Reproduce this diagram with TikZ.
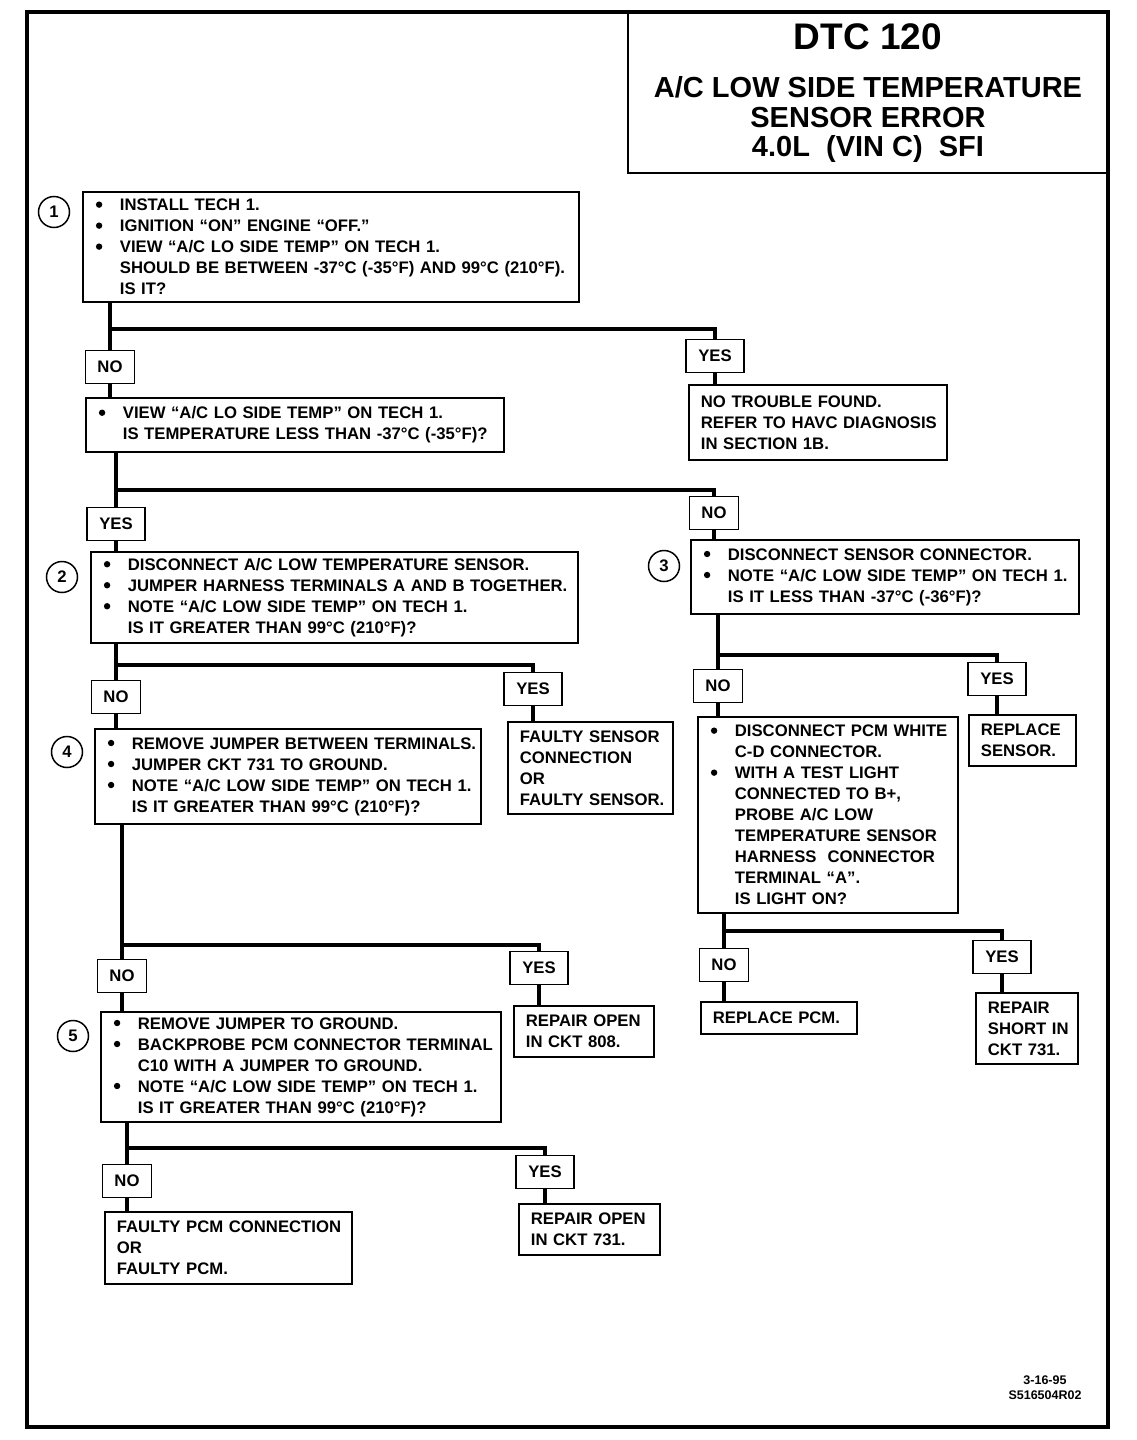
\documentclass[tikz,border=0pt]{standalone}
\usepackage{fontspec}
\setmainfont{Liberation Sans}
\usepackage{tikz}

\newcommand{\bodyfont}{\fontsize{16.7}{21}\selectfont\bfseries}
\newcommand{\titlefont}{\fontsize{29}{29.5}\selectfont\bfseries}
\newcommand{\bdot}{\tikz[baseline=-6pt]\fill (0,0) circle (3.2pt);}
\newcommand{\bitem}[1]{\hspace*{13pt}\makebox[24pt][l]{\bdot}\mbox{#1}}
\newcommand{\bcont}[1]{\hspace*{37pt}\mbox{#1}}
\newcommand{\bline}[1]{\hspace*{12pt}\mbox{#1}}

\begin{document}
\begin{tikzpicture}[x=1pt, y=-1pt,
	box/.style={draw, line width=1.8pt, anchor=north west, inner xsep=0pt, inner ysep=0pt, align=left, font=\bodyfont},
	ans/.style={draw, line width=1.8pt, inner xsep=12pt, minimum height=33pt, font=\bodyfont},
	num/.style={circle, draw, line width=1.5pt, minimum size=31pt, inner sep=0pt, font=\bodyfont},
	link/.style={line width=4.8pt},
	title/.style={draw, line width=2pt, minimum width=480pt, minimum height=160pt, align=center, font=\titlefont}]
	\useasboundingbox (0,0) rectangle (1136,1440);
	\draw[line width=3.6pt] (27,12) rectangle (1108,1427);
	\node[title] (title) at (868,93) {{\fontsize{37}{37}\selectfont DTC 120}\\[19pt]
		A/C LOW SIDE TEMPERATURE\\ SENSOR ERROR\\ 4.0L\ \ (VIN C)\ \ SFI};
	% step boxes
	\node[box, text width=496pt, minimum height=110pt] (b1) at (82,191) {\bitem{INSTALL TECH 1.}\\
		\bitem{IGNITION “ON” ENGINE “OFF.”}\\
		\bitem{VIEW “A/C LO SIDE TEMP” ON TECH 1.}\\
		\bcont{SHOULD BE BETWEEN -37°C (-35°F) AND 99°C (210°F).}\\
		\bcont{IS IT?}};
	\node[box, text width=418pt, minimum height=54pt] (b2) at (85,397) {\bitem{VIEW “A/C LO SIDE TEMP” ON TECH 1.}\\
		\bcont{IS TEMPERATURE LESS THAN -37°C (-35°F)?}};
	\node[box, text width=487pt, minimum height=91pt] (b3) at (90,551) {\bitem{DISCONNECT A/C LOW TEMPERATURE SENSOR.}\\
		\bitem{JUMPER HARNESS TERMINALS A AND B TOGETHER.}\\
		\bitem{NOTE “A/C LOW SIDE TEMP” ON TECH 1.}\\
		\bcont{IS IT GREATER THAN 99°C (210°F)?}};
	\node[box, text width=388pt, minimum height=74pt] (b4) at (690,539) {\bitem{DISCONNECT SENSOR CONNECTOR.}\\
		\bitem{NOTE “A/C LOW SIDE TEMP” ON TECH 1.}\\
		\bcont{IS IT LESS THAN -37°C (-36°F)?}};
	\node[box, text width=386pt, minimum height=95pt] (b5) at (94,728) {\bitem{REMOVE JUMPER BETWEEN TERMINALS.}\\
		\bitem{JUMPER CKT 731 TO GROUND.}\\
		\bitem{NOTE “A/C LOW SIDE TEMP” ON TECH 1.}\\
		\bcont{IS IT GREATER THAN 99°C (210°F)?}};
	\node[box, text width=260pt, minimum height=196pt] (b6) at (697,716) {\bitem{DISCONNECT PCM WHITE}\\
		\bcont{C-D CONNECTOR.}\\
		\bitem{WITH A TEST LIGHT}\\
		\bcont{CONNECTED TO B+,}\\
		\bcont{PROBE A/C LOW}\\
		\bcont{TEMPERATURE SENSOR}\\
		\bcont{HARNESS\ \ CONNECTOR}\\
		\bcont{TERMINAL “A”.}\\
		\bcont{IS LIGHT ON?}};
	\node[box, text width=400pt, minimum height=110pt] (b7) at (100,1011) {\bitem{REMOVE JUMPER TO GROUND.}\\
		\bitem{BACKPROBE PCM CONNECTOR TERMINAL}\\
		\bcont{C10 WITH A JUMPER TO GROUND.}\\
		\bitem{NOTE “A/C LOW SIDE TEMP” ON TECH 1.}\\
		\bcont{IS IT GREATER THAN 99°C (210°F)?}};
	% result boxes
	\node[box, text width=258pt, minimum height=75pt] (r1) at (688,384) {\bline{NO TROUBLE FOUND.}\\
		\bline{REFER TO HAVC DIAGNOSIS}\\ \bline{IN SECTION 1B.}};
	\node[box, text width=165pt, minimum height=92pt] (r2) at (507,721) {\bline{FAULTY SENSOR}\\
		\bline{CONNECTION}\\ \bline{OR}\\ \bline{FAULTY SENSOR.}};
	\node[box, text width=107pt, minimum height=51pt] (r3) at (968,714) {\bline{REPLACE}\\ \bline{SENSOR.}};
	\node[box, text width=156pt, minimum height=32pt] (r4) at (700,1001) {\bline{REPLACE PCM.}};
	\node[box, text width=102pt, minimum height=71pt] (r5) at (975,992) {\bline{REPAIR}\\
		\bline{SHORT IN}\\ \bline{CKT 731.}};
	\node[box, text width=140pt, minimum height=51pt] (r6) at (513,1005) {\bline{REPAIR OPEN}\\ \bline{IN CKT 808.}};
	\node[box, text width=247pt, minimum height=72pt] (r7) at (104,1211) {\bline{FAULTY PCM CONNECTION}\\
		\bline{OR}\\ \bline{FAULTY PCM.}};
	\node[box, text width=141pt, minimum height=51pt] (r8) at (518,1203) {\bline{REPAIR OPEN}\\ \bline{IN CKT 731.}};
	% step numbers
	\foreach \i/\cx/\cy in {1/54/212, 2/62/577, 3/664/566, 4/67/752, 5/73/1036}
		\node[num] (c\i) at (\cx,\cy) {\i};
	% answers
	\node[ans] (n1) at (110,367) {NO};
	\node[ans] (y1) at (715,356) {YES};
	\node[ans] (y2) at (116,524) {YES};
	\node[ans] (n2) at (714,513) {NO};
	\node[ans] (n3) at (116,697) {NO};
	\node[ans] (y3) at (533,689) {YES};
	\node[ans] (n4) at (718,686) {NO};
	\node[ans] (y4) at (997,679) {YES};
	\node[ans] (n5) at (724,965) {NO};
	\node[ans] (y5) at (1002,957) {YES};
	\node[ans] (n6) at (122,976) {NO};
	\node[ans] (y6) at (539,968) {YES};
	\node[ans] (n7) at (127,1181) {NO};
	\node[ans] (y7) at (545,1172) {YES};
	\coordinate (s1) at (0,329);
	\coordinate (s2) at (0,490);
	\coordinate (s3) at (0,665);
	\coordinate (s4) at (0,655);
	\coordinate (s5) at (0,931);
	\coordinate (s6) at (0,945);
	\coordinate (s7) at (0,1148);
	% connectors
	\draw[link] (b1.south -| n1) -- (n1.north);
	\draw[link] (s1 -| n1) -| (y1.north);
	\draw[link] (n1.south) -- (b2.north -| n1);
	\draw[link] (y1.south) -- (r1.north -| y1);
	\draw[link] (b2.south -| y2) -- (y2.north);
	\draw[link] (s2 -| y2) -| (n2.north);
	\draw[link] (y2.south) -- (b3.north -| y2);
	\draw[link] (n2.south) -- (b4.north -| n2);
	\draw[link] (b3.south -| n3) -- (n3.north);
	\draw[link] (s3 -| n3) -| (y3.north);
	\draw[link] (n3.south) -- (b5.north -| n3);
	\draw[link] (y3.south) -- (r2.north -| y3);
	\draw[link] (b4.south -| n4) -- (n4.north);
	\draw[link] (s4 -| n4) -| (y4.north);
	\draw[link] (n4.south) -- (b6.north -| n4);
	\draw[link] (y4.south) -- (r3.north -| y4);
	\draw[link] (b6.south -| n5) -- (n5.north);
	\draw[link] (s5 -| n5) -| (y5.north);
	\draw[link] (n5.south) -- (r4.north -| n5);
	\draw[link] (y5.south) -- (r5.north -| y5);
	\draw[link] (b5.south -| n6) -- (n6.north);
	\draw[link] (s6 -| n6) -| (y6.north);
	\draw[link] (n6.south) -- (b7.north -| n6);
	\draw[link] (y6.south) -- (r6.north -| y6);
	\draw[link] (b7.south -| n7) -- (n7.north);
	\draw[link] (s7 -| n7) -| (y7.north);
	\draw[link] (n7.south) -- (r7.north -| n7);
	\draw[link] (y7.south) -- (r8.north -| y7);
	\node[align=center, font=\fontsize{12.5}{15}\selectfont\bfseries] (code) at (1045,1388) {3-16-95\\ S516504R02};
\end{tikzpicture}
\end{document}
